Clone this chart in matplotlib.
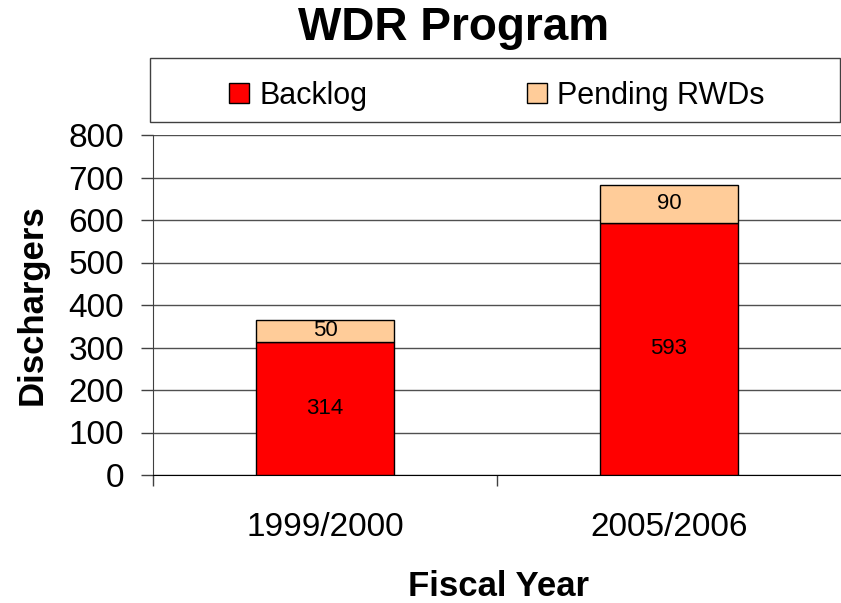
import matplotlib.pyplot as plt
import matplotlib.patches as mpatches
import numpy as np

plt.rcParams['font.family'] = ['Liberation Sans', 'DejaVu Sans']

years = ["1999/2000", "2005/2006"]
backlog = [314, 593]
pending = [50, 90]
yticks = [0, 100, 200, 300, 400, 500, 600, 700, 800]

fig = plt.figure(figsize=(8.41, 6.03), dpi=100)
ax = fig.add_axes([153/841, 128/603, 1 - 153/841, 340/603])

x = np.arange(len(years))
b1 = ax.bar(x, backlog, width=0.4, color="#ff0000", edgecolor="black", linewidth=1, label="Backlog", zorder=3)
b2 = ax.bar(x, pending, width=0.4, bottom=backlog, color="#ffcc99", edgecolor="black", linewidth=1, label="Pending RWDs", zorder=3)

for i in range(len(years)):
    ax.text(x[i], backlog[i] / 2, str(backlog[i]), ha="center", va="center", fontsize=16, zorder=4)
    ax.text(x[i], backlog[i] + pending[i] / 2, str(pending[i]), ha="center", va="center", fontsize=16, zorder=4)

ax.set_xlim(-0.5, 1.5)
ax.set_ylim(0, 800)
ax.set_yticks(yticks)
ax.tick_params(axis="y", labelsize=24, length=9, width=1, pad=12, color="#404040")
ax.set_xticks([-0.5, 0.5])
ax.set_xticklabels(["", ""])
ax.tick_params(axis="x", which="major", length=8, width=1, color="#404040")
ax.set_xticks(x, minor=True)
ax.set_xticklabels(years, minor=True)
ax.tick_params(axis="x", which="minor", length=0, labelsize=24, pad=27)

ax.yaxis.grid(True, color="#505050", linewidth=1, zorder=0)
ax.set_axisbelow(True)
for s in ["top", "right"]:
    ax.spines[s].set_visible(False)
ax.spines["left"].set_color("#404040")
ax.spines["bottom"].set_color("black")

fig.text(32/841, 1 - 305/603, "Dischargers", rotation=90, ha="center", va="center",
         fontsize=25, fontweight="bold")
fig.text(498/841, 1 - 587/603, "Fiscal Year", ha="center", va="center",
         fontsize=25, fontweight="bold")
fig.text(454/841, 1 - 28/603, "WDR Program", ha="center", va="center",
         fontsize=33, fontweight="bold")

# legend box
box = mpatches.Rectangle((150/841, 1 - 122/603), 690/841, 64/603, transform=fig.transFigure,
                         facecolor="white", edgecolor="#404040", linewidth=1)
fig.patches.append(box)
fig.legend(handles=[b1, b2], loc="center", bbox_to_anchor=(497/841, 1 - 96/603), ncol=2,
           frameon=False, fontsize=22, handlelength=0.65, handleheight=0.65,
           handletextpad=0.35, columnspacing=5.2)

plt.savefig("out.png", dpi=100)
